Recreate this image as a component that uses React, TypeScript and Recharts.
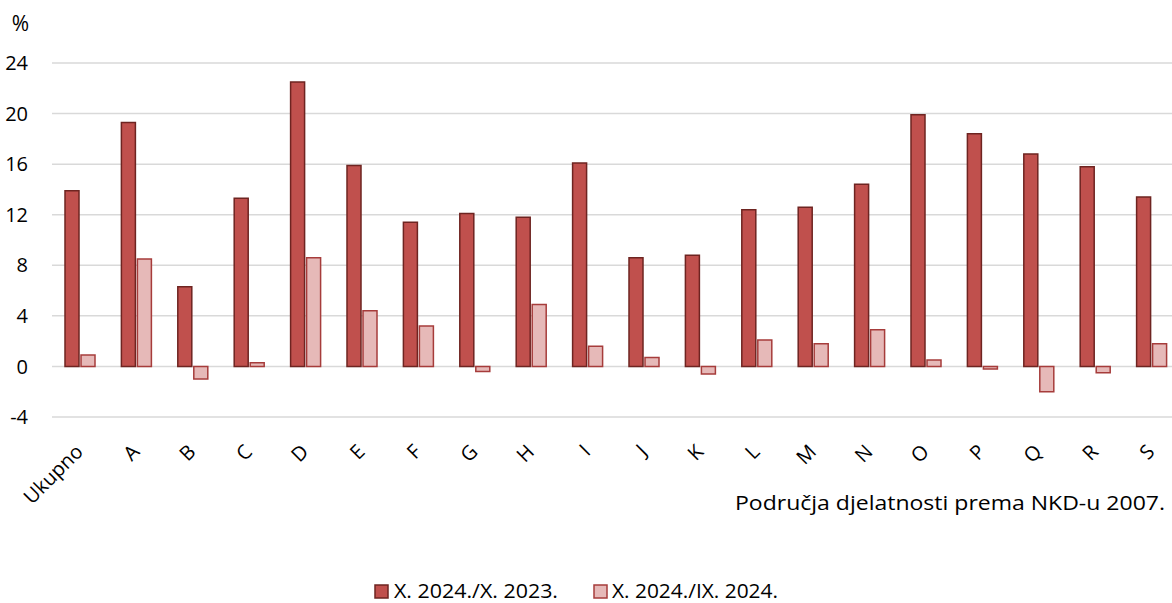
import React from 'react';
import { BarChart, Bar, XAxis, YAxis, CartesianGrid } from 'recharts';

const categories = ['Ukupno', 'A', 'B', 'C', 'D', 'E', 'F', 'G', 'H', 'I', 'J', 'K', 'L', 'M', 'N', 'O', 'P', 'Q', 'R', 'S'];
const yoyValues = [13.9, 19.3, 6.3, 13.3, 22.5, 15.9, 11.4, 12.1, 11.8, 16.1, 8.6, 8.8, 12.4, 12.6, 14.4, 19.9, 18.4, 16.8, 15.8, 13.4];
const momValues = [0.9, 8.5, -1.0, 0.3, 8.6, 4.4, 3.2, -0.4, 4.9, 1.6, 0.7, -0.6, 2.1, 1.8, 2.9, 0.5, -0.2, -2.0, -0.5, 1.8];
const yTicks = [-4, 0, 4, 8, 12, 16, 20, 24];
const seriesNames = ['X. 2024./X. 2023.', 'X. 2024./IX. 2024.'];
const unitLabel = '%';
const axisTitle = 'Područja djelatnosti prema NKD-u 2007.';

const data = categories.map((c, i) => ({ name: c, yoy: yoyValues[i], mom: momValues[i] }));

const FONT = '"Open Sans", sans-serif';
const DARK_FILL = '#C0504D';
const DARK_STROKE = '#6E2421';
const LIGHT_FILL = '#E6B9B8';
const LIGHT_STROKE = '#A63C3B';

const XTick = (props: any) => {
  const { x, y, payload } = props;
  const tx = x + 4;
  const ty = y + 28;
  return (
    <g transform={`translate(${tx}, ${ty}) rotate(-45)`}>
      <text x={0} y={0} textAnchor="end" fontFamily={FONT} fontSize={20} fill="#000">
        {payload.value}
      </text>
    </g>
  );
};

export default function App() {
  return (
    <div style={{ position: 'absolute', left: 0, top: 0, width: 1172, height: 603, overflow: 'hidden', background: '#fff' }}>
      <BarChart
        width={1180}
        height={603}
        data={data}
        margin={{ top: 63, right: 0, bottom: 146, left: 0 }}
        barSize={14}
        barGap={2}
      >
        <CartesianGrid vertical={false} stroke="#D9D9D9" strokeWidth={1.5} />
        <XAxis
          dataKey="name"
          height={40}
          axisLine={false}
          tickLine={false}
          interval={0}
          tick={<XTick />}
        />
        <YAxis
          width={52}
          domain={[-4, 24]}
          ticks={yTicks}
          axisLine={false}
          tickLine={false}
          tickSize={0}
          tickMargin={24}
          tick={{ fontFamily: FONT, fontSize: 20, fill: '#000' }}
          interval={0}
        />
        <Bar dataKey="yoy" name={seriesNames[0]} fill={DARK_FILL} stroke={DARK_STROKE} strokeWidth={1.5} isAnimationActive={false} />
        <Bar dataKey="mom" name={seriesNames[1]} fill={LIGHT_FILL} stroke={LIGHT_STROKE} strokeWidth={1.5} isAnimationActive={false} />
      </BarChart>
      <svg
        width={1172}
        height={603}
        style={{ position: 'absolute', left: 0, top: 0, pointerEvents: 'none' }}
      >
        <text x={29} y={31} textAnchor="end" fontFamily={FONT} fontSize={21} fill="#000">{unitLabel}</text>
        <text x={735} y={510} fontFamily={FONT} fontSize={20} fill="#000" textLength={430} lengthAdjust="spacingAndGlyphs">{axisTitle}</text>
        <rect x={375} y={585} width={13} height={13} fill={DARK_FILL} stroke={DARK_STROKE} strokeWidth={1.5} />
        <text x={394} y={598} fontFamily={FONT} fontSize={20} fill="#000" textLength={164} lengthAdjust="spacingAndGlyphs">{seriesNames[0]}</text>
        <rect x={594} y={585} width={13} height={13} fill={LIGHT_FILL} stroke={LIGHT_STROKE} strokeWidth={1.5} />
        <text x={612} y={598} fontFamily={FONT} fontSize={20} fill="#000" textLength={166} lengthAdjust="spacingAndGlyphs">{seriesNames[1]}</text>
      </svg>
    </div>
  );
}
